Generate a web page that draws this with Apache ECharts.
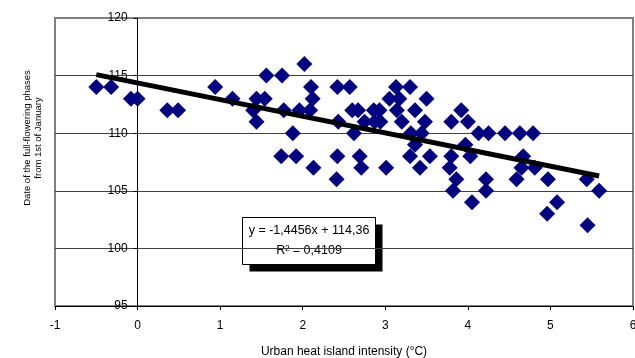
<!DOCTYPE html>
<html>
<head>
<meta charset="utf-8">
<script src="https://cdn.jsdelivr.net/npm/echarts@6/dist/echarts.min.js"></script>
<style>
    html, body { margin: 0; padding: 0; background: #fff; }
    #chartDiv { width: 635px; height: 358px; }
</style>
</head>
<body>
<div id="chartDiv"></div>
<script>
// heat island intensity (x) and full flowering day (y)
let heatIsland = [
    -0.50, -0.32, -0.08, 0.00, 0.36, 0.49, 0.94, 1.15, 1.44, 1.54,
    1.40, 1.44, 1.56, 1.75, 2.02, 2.10, 2.12, 1.77, 1.96, 2.09,
    1.88, 1.74, 1.92, 2.13, 2.42, 2.57, 2.42, 2.41, 2.43, 2.62,
    2.60, 2.67, 2.86, 2.93, 2.69, 2.71, 3.01, 3.13, 3.30, 3.05,
    3.17, 3.50, 3.14, 3.36, 2.75, 2.87, 2.94, 3.20, 3.48, 3.80,
    3.92, 4.00, 3.31, 3.44, 3.36, 3.97, 3.30, 3.54, 3.80, 3.42,
    3.78, 3.86, 4.13, 4.25, 4.45, 4.63, 4.79, 4.03, 4.67, 4.65,
    4.81, 3.82, 4.05, 4.22, 4.22, 4.59, 4.97, 5.08, 4.96, 5.44,
    5.59, 5.45
];
let floweringDay = [
    114, 114, 113, 113, 112, 112, 114, 113, 113, 113,
    112, 111, 115, 115, 116, 114, 113, 112, 112, 112,
    110, 108, 108, 107, 114, 114, 108, 106, 111, 110,
    112, 112, 112, 112, 108, 107, 107, 114, 114, 113,
    113, 113, 112, 112, 111, 111, 111, 111, 111, 111,
    112, 111, 110, 110, 109, 109, 108, 108, 108, 107,
    107, 106, 110, 110, 110, 110, 110, 108, 108, 107,
    107, 105, 104, 106, 105, 106, 106, 104, 103, 106,
    105, 102
];
let xTicks = [-1, 0, 1, 2, 3, 4, 5, 6];
let yTicks = [95, 100, 105, 110, 115, 120];

// trend line from the equation on the chart
let slope = -1.4456;
let intercept = 114.36;
let eqLines = ["y = -1,4456x + 114,36", "R² = 0,4109"];

let chart = echarts.init(document.getElementById("chartDiv"));

let points = heatIsland.map((x, i) => [x, floweringDay[i]]);
let xMin = Math.min(...heatIsland);
let xMax = Math.max(...heatIsland);
let trend = [
    [xMin, slope * xMin + intercept],
    [xMax, slope * xMax + intercept],
];

let font = "Liberation Sans, Arial, sans-serif";

// plot box
let gridLeft = 55;
let gridRight = 2;
let plotWidth = 635 - gridLeft - gridRight;
// move the y axis over to x = 0, like the Excel chart
let yAxisShift = -plotWidth * (0 - xTicks[0]) / (xTicks[xTicks.length - 1] - xTicks[0]);

let options = {
    animation: false,
    textStyle: { fontFamily: font },
    grid: {
        left: gridLeft,
        right: gridRight,
        top: 18,
        bottom: 52,
        outerBoundsMode: "none",
        containLabel: false,
        show: true,
        borderColor: "#808080",
        borderWidth: 2,
    },
    xAxis: {
        type: "value",
        min: xTicks[0],
        max: xTicks[xTicks.length - 1],
        interval: 1,
        name: "Urban heat island intensity (°C)",
        nameLocation: "middle",
        nameGap: 40,
        nameTextStyle: { color: "#000", fontSize: 12, fontFamily: font },
        axisLine: { onZero: false, lineStyle: { color: "#000", width: 1 } },
        axisTick: { show: true, inside: false, length: 4, lineStyle: { color: "#000" } },
        axisLabel: { color: "#000", fontSize: 12, margin: 14, fontFamily: font },
        splitLine: { show: false },
    },
    yAxis: {
        type: "value",
        min: yTicks[0],
        max: yTicks[yTicks.length - 1],
        interval: 5,
        offset: yAxisShift,
        axisLine: { show: true, onZero: false, lineStyle: { color: "#000", width: 1 } },
        axisTick: { show: true, inside: false, length: 4, lineStyle: { color: "#000" } },
        axisLabel: { color: "#000", fontSize: 12, margin: 10, fontFamily: font },
        splitLine: {
            show: true,
            showMinLine: false,
            showMaxLine: false,
            lineStyle: { color: "#404040", width: 1 },
        },
    },
    graphic: [
        {
            type: "text",
            x: 33,
            y: 138,
            rotation: Math.PI / 2,
            style: {
                text: "Date of the full-flowering phases\nfrom 1st of January",
                fill: "#000",
                font: "9.5px " + font,
                align: "center",
                verticalAlign: "middle",
                lineHeight: 11.5,
            },
        },
        {
            type: "group",
            left: 242,
            top: 217,
            z: 100,
            children: [
                {
                    type: "rect",
                    x: 7,
                    y: 7,
                    shape: { width: 133, height: 47 },
                    style: { fill: "#000" },
                },
                {
                    type: "rect",
                    x: 0,
                    y: 0,
                    shape: { width: 133, height: 47 },
                    style: { fill: "#fff", stroke: "#000", lineWidth: 1 },
                },
                {
                    type: "text",
                    x: 66.5,
                    y: 13,
                    style: {
                        text: eqLines[0],
                        fill: "#000",
                        font: "12.5px " + font,
                        align: "center",
                        verticalAlign: "middle",
                    },
                },
                {
                    type: "text",
                    x: 66.5,
                    y: 33,
                    style: {
                        text: eqLines[1],
                        fill: "#000",
                        font: "12.5px " + font,
                        align: "center",
                        verticalAlign: "middle",
                    },
                },
            ],
        },
    ],
    series: [
        {
            type: "scatter",
            data: points,
            symbol: "diamond",
            symbolSize: 16,
            itemStyle: { color: "#000080", opacity: 1 },
            z: 2,
        },
        {
            type: "line",
            data: trend,
            symbol: "none",
            lineStyle: { color: "#000", width: 5 },
            z: 3,
        },
    ],
};

chart.setOption(options);
</script>
</body>
</html>
